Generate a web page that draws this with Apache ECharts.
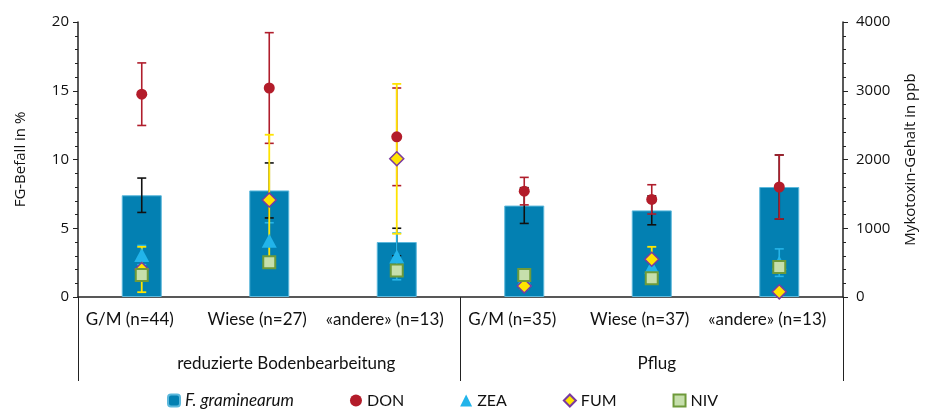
<!DOCTYPE html>
<html>
<head>
<meta charset="utf-8">
<script src="https://cdn.jsdelivr.net/npm/echarts@6/dist/echarts.min.js"></script>
<style>html,body{margin:0;padding:0;background:#fff}#c{width:928px;height:411px}</style>
</head>
<body>
<div id="c"></div>
<script>
const categories = ['G/M (n=44)', 'Wiese (n=27)', '«andere» (n=13)', 'G/M (n=35)', 'Wiese (n=37)', '«andere» (n=13)'];
const groups = ['reduzierte Bodenbearbeitung', 'Pflug'];
const leftTicks = [0, 5, 10, 15, 20];
const rightTicks = [0, 1000, 2000, 3000, 4000];
const fgBefall = [7.4, 7.75, 4.0, 6.65, 6.3, 8.0];
const fgErr = [1.25, 2.0, 1.0, 1.3, 1.05, 2.33];
const don = [2950, 3040, 2330, 1540, 1420, 1600];
const donErr = [455, 805, 710, 200, 213, 465];
const zea = [610, 820, 590, 260, 440, 500];
const zeaErr = [140, 260, 340, 60, 100, 200];
const fum = [400, 1410, 2010, 160, 550, 75];
const fumErr = [330, 950, 1090, 40, 180, 30];
const niv = [320, 505, 385, 320, 272, 436];

function errData(vals, errs) {
  return vals.map((v, i) => [i, v - errs[i], v + errs[i]]);
}
function errRender(color, capW, lw) {
  return function (params, api) {
    const x = api.value(0), lo = api.value(1), hi = api.value(2);
    const p1 = api.coord([x, hi]), p2 = api.coord([x, lo]);
    const h = capW / 2;
    return {
      type: 'group',
      children: [
        { type: 'line', shape: { x1: p1[0], y1: p1[1], x2: p2[0], y2: p2[1] }, style: { stroke: color, lineWidth: lw } },
        { type: 'line', shape: { x1: p1[0] - h, y1: p1[1], x2: p1[0] + h, y2: p1[1] }, style: { stroke: color, lineWidth: lw } },
        { type: 'line', shape: { x1: p2[0] - h, y1: p2[1], x2: p2[0] + h, y2: p2[1] }, style: { stroke: color, lineWidth: lw } }
      ]
    };
  };
}

const FONT = 'Open Sans';
const LFONT = 'Lato';
const chart = echarts.init(document.getElementById('c'), null, { renderer: 'canvas' });
chart.setOption({
  animation: false,
  grid: { left: 78, right: 85, top: 22, bottom: 114, containLabel: false },
  legend: {
    data: ['F. graminearum', 'DON', 'ZEA', 'FUM', 'NIV'],
    left: 162, top: 387,
    itemWidth: 12, itemHeight: 12, itemGap: 56,
    textStyle: { fontFamily: LFONT, fontSize: 16, color: '#111',
      rich: { i: { fontFamily: LFONT, fontStyle: 'italic', fontSize: 17, color: '#111', padding: [0, 14, 0, 0] } } },
    formatter: n => n === 'F. graminearum' ? '{i|F. graminearum}' : n,
    selectedMode: false
  },
  xAxis: [
    {
      type: 'category', data: categories, position: 'bottom',
      axisLine: { show: true, lineStyle: { color: '#222', width: 1.5 } },
      axisTick: { show: false },
      axisLabel: { interval: 0, margin: 14, fontFamily: LFONT, fontSize: 17, color: '#111', padding: [0, 24, 0, 0] },
      splitLine: { show: false }
    },
    {
      type: 'category', data: groups, position: 'bottom',
      axisLine: { show: false },
      axisTick: { show: true, length: 84, lineStyle: { color: '#222', width: 1 } },
      axisLabel: { interval: 0, margin: 58, color: '#111',
        formatter: (v, i) => (i === 0 ? '{a|' : '{b|') + v + '}',
        rich: {
          a: { fontFamily: LFONT, fontSize: 17, color: '#111', padding: [0, 0, 0, 34] },
          b: { fontFamily: LFONT, fontSize: 17, color: '#111', padding: [0, 0, 0, 10] }
        } },
      splitLine: { show: false }
    }
  ],
  yAxis: [
    {
      type: 'value', min: 0, max: 20, interval: 5,
      name: 'FG-Befall in %', nameLocation: 'middle', nameGap: 50, nameRotate: 90,
      nameTextStyle: { fontFamily: FONT, fontSize: 15, color: '#111' },
      axisLine: { show: true, lineStyle: { color: '#222', width: 1.5 } },
      axisTick: { show: true, length: 5, lineStyle: { color: '#222' } },
      minorTick: { show: true, splitNumber: 5, length: 3, lineStyle: { color: '#222' } },
      axisLabel: { fontFamily: FONT, fontSize: 15, color: '#111', margin: 9,
        formatter: v => leftTicks.includes(v) ? String(v) : '' },
      splitLine: { show: false }
    },
    {
      type: 'value', min: 0, max: 4000, interval: 1000, position: 'right',
      name: 'Mykotoxin-Gehalt in ppb', nameLocation: 'middle', nameGap: 60, nameRotate: 90,
      nameTextStyle: { fontFamily: FONT, fontSize: 15, color: '#111' },
      axisLine: { show: true, lineStyle: { color: '#222', width: 1.5 } },
      axisTick: { show: true, length: 5, lineStyle: { color: '#222' } },
      minorTick: { show: true, splitNumber: 5, length: 3, lineStyle: { color: '#222' } },
      axisLabel: { fontFamily: FONT, fontSize: 15, color: '#111', margin: 13,
        formatter: v => rightTicks.includes(v) ? String(v) : '' },
      splitLine: { show: false }
    }
  ],
  series: [
    { name: 'F. graminearum', type: 'bar', data: fgBefall, barWidth: 40, yAxisIndex: 0, z: 1,
      itemStyle: { color: '#0380b2', borderColor: '#5cb8dc', borderWidth: 1 } },
    { name: 'FG err', type: 'custom', yAxisIndex: 0, z: 2, data: errData(fgBefall, fgErr),
      encode: { x: 0, y: [1, 2] }, renderItem: errRender('#111', 9, 1.6) },
    { name: 'DON err', type: 'custom', yAxisIndex: 1, z: 3, data: errData(don, donErr),
      encode: { x: 0, y: [1, 2] }, renderItem: errRender('#b01e2c', 9, 1.6) },
    { name: 'ZEA err', type: 'custom', yAxisIndex: 1, z: 4, data: errData(zea, zeaErr),
      encode: { x: 0, y: [1, 2] }, renderItem: errRender('#27b4e8', 9, 1.6) },
    { name: 'FUM err', type: 'custom', yAxisIndex: 1, z: 5, data: errData(fum, fumErr),
      encode: { x: 0, y: [1, 2] }, renderItem: errRender('#ffe400', 9, 1.8) },
    { name: 'ZEA', type: 'scatter', yAxisIndex: 1, z: 6, data: zea, symbol: 'triangle', symbolSize: [15, 14],
      itemStyle: { color: '#22b4ea', opacity: 1 } },
    { name: 'FUM', type: 'scatter', yAxisIndex: 1, z: 7, data: fum, symbol: 'diamond', symbolSize: [14, 14],
      itemStyle: { color: '#ffe400', borderColor: '#7a3aa0', borderWidth: 1.5, opacity: 1 } },
    { name: 'NIV', type: 'scatter', yAxisIndex: 1, z: 8, data: niv, symbol: 'rect', symbolSize: [12, 12],
      itemStyle: { color: '#c6dfac', borderColor: '#6e9a3a', borderWidth: 2, opacity: 1 } },
    { name: 'DON', type: 'scatter', yAxisIndex: 1, z: 9, data: don, symbol: 'circle', symbolSize: 11,
      itemStyle: { color: '#b31c2a', opacity: 1 } }
  ]
});
</script>
</body>
</html>
